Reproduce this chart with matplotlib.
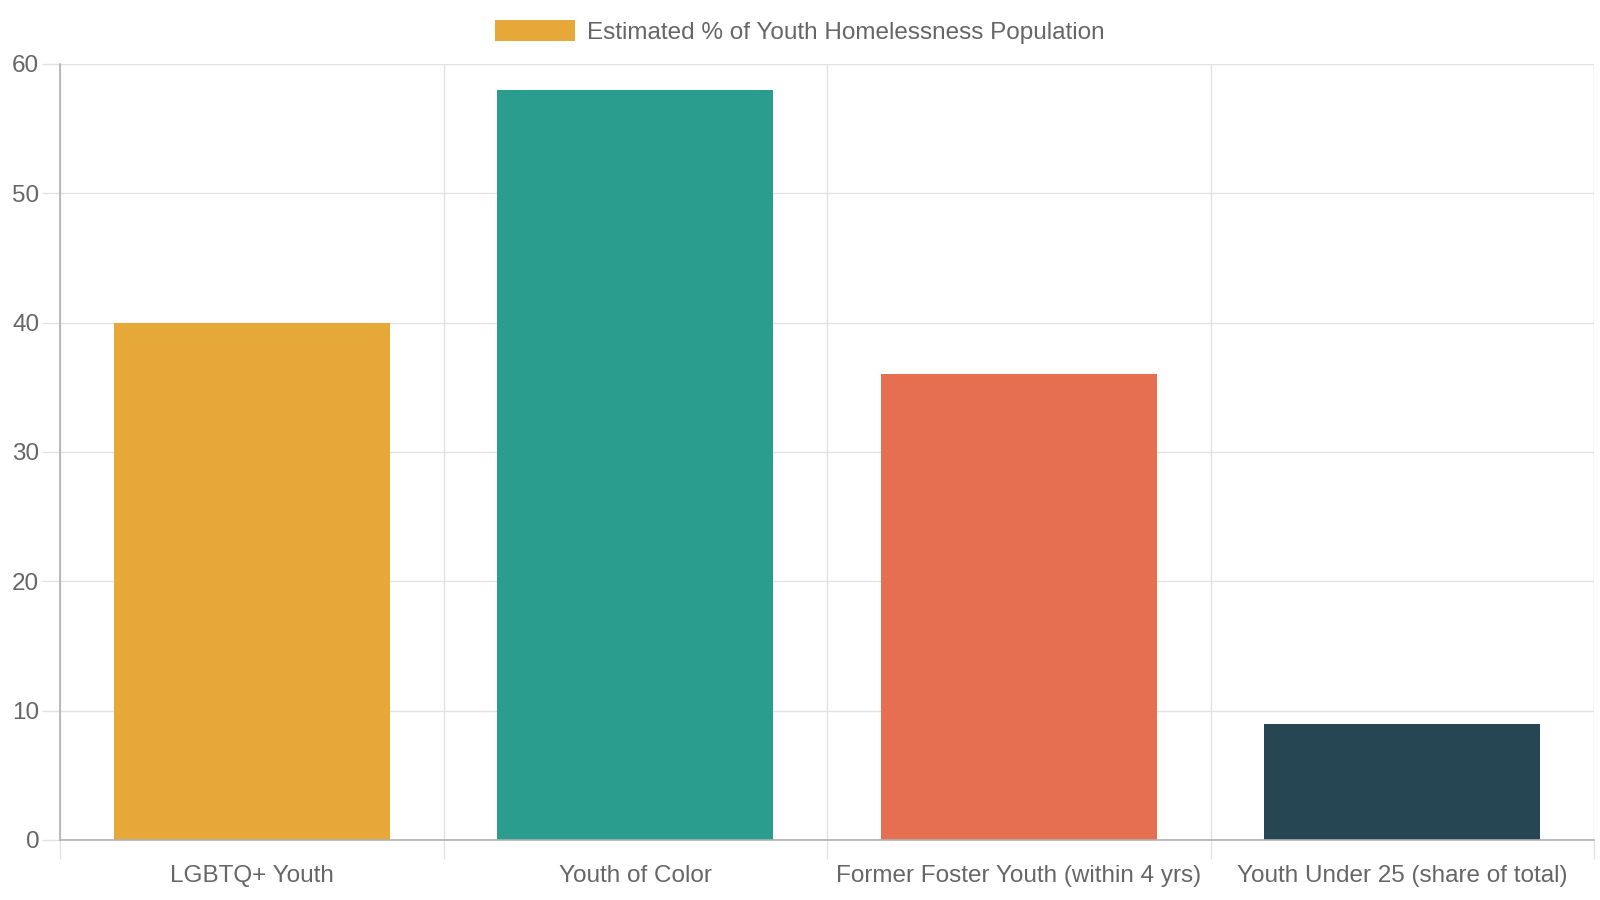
import matplotlib.pyplot as plt
import numpy as np

plt.rcParams['font.family'] = ['Liberation Sans', 'DejaVu Sans']

# data
categories = ['LGBTQ+ Youth', 'Youth of Color', 'Former Foster Youth (within 4 yrs)',
              'Youth Under 25 (share of total)']
values = [40, 58, 36, 9]
colors = ['#E6A838', '#2A9D8F', '#E76F51', '#264653']
series_label = 'Estimated % of Youth Homelessness Population'
y_ticks = [0, 10, 20, 30, 40, 50, 60]

text_col = '#666666'
grid_col = '#e2e2e2'
axis_col = '#b0b0b0'

fig = plt.figure(figsize=(16, 9), dpi=100)
ax = fig.add_axes([60 / 1600, 1 - 840 / 900, 1534 / 1600, 776 / 900])

x = np.arange(len(categories))
bars = ax.bar(x, values, width=0.72, color=colors, label=series_label, zorder=2)

ax.set_xlim(-0.5, len(categories) - 0.5)
ax.set_ylim(0, 60)

# y axis
ax.set_yticks(y_ticks)
ax.tick_params(axis='y', length=13, width=1, color=grid_col, pad=2,
               labelsize=17.5, labelcolor=text_col)
ax.yaxis.grid(True, color=grid_col, linewidth=1, zorder=0)

# x axis: labels at centers, gridlines between categories
ax.set_xticks(x)
ax.set_xticklabels(categories)
ax.set_xticks(np.arange(len(categories) + 1) - 0.5, minor=True)
ax.tick_params(axis='x', which='major', length=0, pad=18, labelsize=17.5, labelcolor=text_col)
ax.tick_params(axis='x', which='minor', length=14, width=1, color=grid_col)
ax.xaxis.grid(True, which='minor', color=grid_col, linewidth=1, zorder=0)
ax.xaxis.grid(False, which='major')
ax.set_axisbelow(True)

for side in ['top', 'right']:
    ax.spines[side].set_visible(False)
for side in ['left', 'bottom']:
    ax.spines[side].set_color(axis_col)
    ax.spines[side].set_linewidth(1.2)

fig.legend(handles=[bars[0]], labels=[series_label], loc='center',
           bbox_to_anchor=(0.5, 1 - 32 / 900), frameon=False, fontsize=17.5,
           labelcolor=text_col, handlelength=3.3, handleheight=0.95,
           handletextpad=0.5, borderpad=0)

fig.savefig('out.png', dpi=100)
